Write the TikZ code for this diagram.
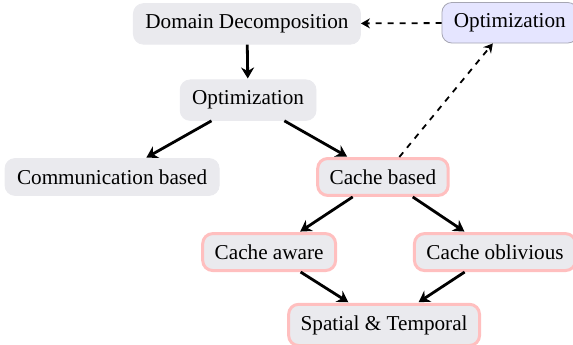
\documentclass[tikz,border=0pt]{standalone}
\usepackage{fontspec}
\setmainfont{Liberation Serif}
\usetikzlibrary{arrows.meta, positioning}

\definecolor{boxgray}{RGB}{234,234,238}

\begin{document}
\begin{tikzpicture}[
    box/.style={rounded corners=5pt, fill=boxgray, draw=boxgray, inner xsep=6pt, inner ysep=5.5pt, font=\fontsize{10.6}{12}\selectfont},
    cachebox/.style={box, draw=red!25, line width=1.5pt},
    optbox/.style={box, fill=blue!10, draw=blue!15!black!35, line width=0.4pt},
    arrow/.style={-{Stealth[length=5.5pt,width=6.5pt]}, line width=1.4pt, shorten >=0.5pt},
    dasharrow/.style={-{Stealth[length=4.5pt,width=5pt]}, dashed, line width=0.9pt}
]
    \useasboundingbox (0,0) rectangle (10.07,-6.06);

    % Top level
    \node[box] (domain) at (4.34,-0.42) {Domain Decomposition};
    \node[optbox] (optext) at (8.96,-0.40) {Optimization};

    % Optimization
    \node[box] (opt) at (4.36,-1.76) {Optimization};

    % Approaches
    \node[box] (comm) at (1.97,-3.11) {Communication based};
    \node[cachebox] (cache) at (6.73,-3.11) {Cache based};

    % Cache variants
    \node[cachebox] (aware) at (4.73,-4.43) {Cache aware};
    \node[cachebox] (oblivious) at (8.70,-4.43) {Cache oblivious};
    \node[cachebox] (spatial) at (6.75,-5.71) {Spatial \& Temporal};

    % Arrows
    \draw[arrow] (domain) -- (opt);
    \draw[arrow] (opt) -- (comm);
    \draw[arrow] (opt) -- (cache);

    \draw[arrow] (cache) -- (aware);
    \draw[arrow] (cache) -- (oblivious);

    \draw[arrow] (aware) -- (spatial);
    \draw[arrow] (oblivious) -- (spatial);

    \draw[dasharrow] (optext) -- (domain);
    \draw[dasharrow] (cache) -- (optext);
\end{tikzpicture}
\end{document}
